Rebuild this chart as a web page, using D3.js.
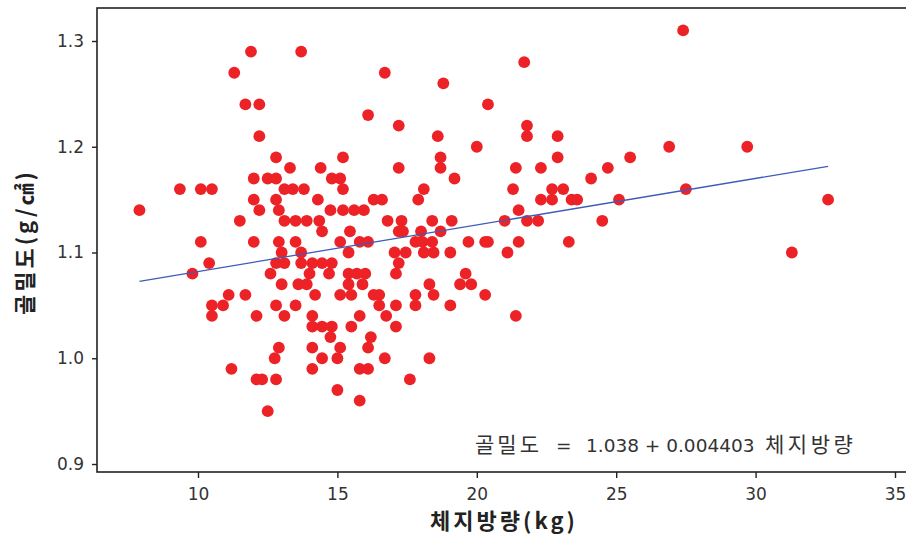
<!DOCTYPE html>
<html>
<head>
<meta charset="utf-8">
<style>
  body { margin: 0; background: #fff; }
  svg { display: block; }
</style>
</head>
<body>
<svg width="906" height="535"></svg>
<script src="https://cdn.jsdelivr.net/npm/d3@7"></script>
<script>
// bone density rows (g/cm2), and the body fat mass (kg) of every dot on that row
var densityRows = [1.31, 1.29, 1.28, 1.27, 1.26, 1.24, 1.23, 1.22, 1.21, 1.20,
                   1.19, 1.18, 1.17, 1.16, 1.15, 1.14, 1.13, 1.12, 1.11, 1.10,
                   1.09, 1.08, 1.07, 1.06, 1.05, 1.04, 1.03, 1.02, 1.01, 1.00,
                   0.99, 0.98, 0.97, 0.96, 0.95];
var fatByRow = [
  [27.4],
  [11.9, 13.7],
  [21.7],
  [11.3, 16.7],
  [18.8],
  [11.7, 12.2, 20.4],
  [16.1],
  [17.2, 21.8],
  [12.2, 18.6, 21.8, 22.9],
  [20.0, 26.9, 29.7],
  [12.8, 15.2, 18.7, 22.9, 25.5],
  [13.3, 14.4, 17.2, 18.7, 21.4, 22.3, 24.7],
  [12.0, 12.5, 12.8, 14.8, 15.1, 19.2, 24.1],
  [9.35, 10.1, 10.5, 13.1, 13.4, 13.8, 15.2, 18.1, 21.3, 22.7, 23.1, 27.5],
  [12.0, 12.8, 14.3, 16.3, 16.6, 17.9, 22.3, 22.7, 23.4, 23.6, 25.1, 32.6],
  [7.9, 12.2, 12.9, 14.75, 15.2, 15.6, 15.95, 21.5],
  [11.5, 13.1, 13.5, 13.9, 14.35, 16.8, 17.3, 18.4, 19.1, 21.0, 21.8, 22.2, 24.5],
  [14.45, 15.45, 17.2, 17.35, 18.0, 18.7],
  [10.1, 12.0, 12.9, 13.5, 15.1, 15.8, 16.1, 17.8, 18.05, 18.4, 19.7, 20.3, 20.4, 21.5, 23.3],
  [13.0, 13.7, 15.4, 17.05, 17.45, 18.1, 18.45, 19.05, 21.1, 31.3],
  [10.4, 12.8, 13.1, 13.7, 14.1, 14.45, 14.8, 17.2],
  [9.8, 12.6, 14.0, 14.7, 15.4, 15.7, 16.0, 17.1, 19.6],
  [13.0, 13.6, 13.9, 15.4, 15.9, 18.3, 19.4, 19.8],
  [11.1, 11.7, 14.2, 15.1, 15.5, 16.3, 16.5, 17.8, 18.45, 20.3],
  [10.5, 10.9, 12.8, 13.5, 16.5, 17.1, 17.8, 19.05],
  [10.5, 12.1, 13.1, 14.1, 15.8, 16.75, 21.4],
  [14.1, 14.45, 14.8, 15.5, 17.1],
  [14.75, 16.2],
  [12.9, 14.1, 15.1, 16.1],
  [12.75, 14.45, 15.0, 16.7, 18.3],
  [11.2, 14.1, 15.8, 16.1],
  [12.1, 12.3, 12.8, 17.6],
  [15.0],
  [15.8],
  [12.5]
];
var xTicks = [10, 15, 20, 25, 30, 35];
var yTicks = [0.9, 1.0, 1.1, 1.2, 1.3];
// fitted line: 골밀도 = 1.038 + 0.004403 체지방량
var intercept = 1.038, slope = 0.004403;

var points = [];
densityRows.forEach(function(d, i) {
  fatByRow[i].forEach(function(f) { points.push({fat: f, bmd: d}); });
});

var svg = d3.select("svg");
var plotLeft = 97, plotTop = 8, plotBottom = 472;

var x = d3.scaleLinear().domain([10, 35]).range([198, 895]);
var y = d3.scaleLinear().domain([0.9, 1.3]).range([464, 41]);

var font = "'DejaVu Sans', 'Noto Sans CJK KR', sans-serif";
var korFont = "'Noto Sans CJK KR', sans-serif";

// frame (right side runs off the picture)
svg.append("rect")
    .attr("x", plotLeft).attr("y", plotTop)
    .attr("width", 830).attr("height", plotBottom - plotTop)
    .attr("fill", "none")
    .attr("stroke", "#222")
    .attr("stroke-width", 1.6);

// y axis
var gy = svg.append("g")
    .attr("transform", "translate(" + plotLeft + ",0)")
    .call(d3.axisLeft(y).tickValues(yTicks).tickFormat(d3.format(".1f"))
      .tickSize(5).tickPadding(8));
gy.select(".domain").remove();

// x axis
var gx = svg.append("g")
    .attr("transform", "translate(0," + plotBottom + ")")
    .call(d3.axisBottom(x).tickValues(xTicks).tickSize(6).tickPadding(10));
gx.select(".domain").remove();

svg.selectAll(".tick line").attr("stroke", "#222").attr("stroke-width", 1.4);
svg.selectAll(".tick text")
    .attr("fill", "#333")
    .style("font-family", font)
    .style("font-size", "17px");

// points
svg.append("g")
  .selectAll("circle")
  .data(points)
  .enter().append("circle")
    .attr("cx", function(d) { return x(d.fat); })
    .attr("cy", function(d) { return y(d.bmd); })
    .attr("r", 5.9)
    .attr("fill", "#ec2227");

// regression line over the data range
var ext = d3.extent(points, function(d) { return d.fat; });
svg.append("line")
    .attr("x1", x(ext[0])).attr("y1", y(intercept + slope * ext[0]))
    .attr("x2", x(ext[1])).attr("y2", y(intercept + slope * ext[1]))
    .attr("stroke", "#3d5cb8")
    .attr("stroke-width", 1.3);

// equation: hangul set larger than the digits, like the original
var eq = svg.append("text")
    .attr("y", 452)
    .attr("fill", "#333")
    .style("font-family", font)
    .style("font-size", "18.5px");
eq.append("tspan").attr("x", 475).style("font-size", "21px").style("letter-spacing", "3px").text("골밀도");
eq.append("tspan").attr("x", 556).text("=");
eq.append("tspan").attr("x", 586).text("1.038 + 0.004403");
eq.append("tspan").attr("x", 765).style("font-size", "21px").style("letter-spacing", "3.5px").text("체지방량");

// axis titles
svg.append("text")
    .attr("x", 504).attr("y", 529)
    .attr("text-anchor", "middle")
    .attr("fill", "#222")
    .style("font-family", korFont)
    .style("font-size", "22px")
    .style("font-weight", "bold")
    .style("letter-spacing", "3px")
    .text("체지방량(kg)");

svg.append("text")
    .attr("transform", "translate(33,242) rotate(-90)")
    .attr("text-anchor", "middle")
    .attr("fill", "#222")
    .style("font-family", korFont)
    .style("font-size", "22px")
    .style("font-weight", "bold")
    .style("letter-spacing", "3px")
    .text("골밀도(g/㎠)");
</script>
</body>
</html>
